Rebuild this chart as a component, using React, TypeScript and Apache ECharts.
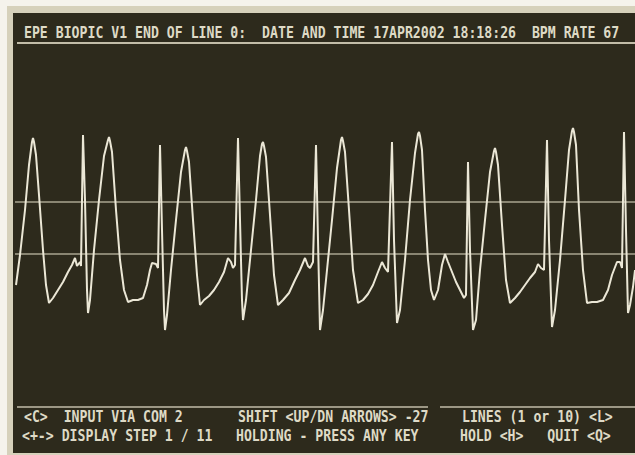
import React, { useEffect, useRef } from "react";
import * as echarts from "echarts";

// Trace: time (sample position) and signal level
const traceTime = [
  1, 5, 10, 14, 17, 18, 19, 21, 24, 28, 31, 34, 38, 43, 48, 53, 57, 60, 62, 65, 66,
  68, 70, 72, 73, 75, 79, 84, 89, 93, 94, 95, 97, 101, 105, 109, 113, 118, 123, 128, 132, 135, 137, 141, 143,
  145, 147, 149, 150, 152, 156, 161, 166, 170, 171, 172, 174, 178, 182, 185, 189, 194, 199, 204, 209, 213, 216, 218, 220,
  223, 225, 227, 228, 231, 236, 241, 245, 247, 248, 249, 251, 255, 259, 263, 268, 274, 280, 285, 290, 293, 295, 298,
  301, 303, 305, 308, 312, 317, 322, 326, 327, 328, 330, 334, 338, 343, 348, 353, 358, 363, 367, 370, 373,
  377, 379, 382, 385, 390, 395, 400, 403, 404, 405, 407, 410, 413, 416, 419, 423, 427, 430, 433, 437, 441, 445, 449, 451,
  453, 455, 458, 461, 465, 470, 475, 479, 480, 481, 483, 487, 491, 495, 500, 505, 510, 515, 520, 523, 526, 529,
  532, 534, 537, 540, 545, 550, 554, 557, 558, 559, 561, 564, 568, 572, 577, 582, 588, 593, 597, 602, 605, 607,
  609, 611, 613, 615, 618, 620,
];
const traceLevel = [
  55, 85, 130, 175, 198, 202, 198, 185, 145, 90, 55, 37, 42, 50, 58, 68, 75, 82, 74, 78, 74,
  205, 140, 50, 27, 40, 90, 140, 184, 200, 203, 199, 188, 130, 80, 50, 38, 40, 40, 42, 55, 70, 77, 76, 72,
  195, 110, 30, 10, 25, 70, 120, 168, 190, 193, 189, 178, 120, 65, 35, 40, 44, 50, 58, 68, 82, 78, 72, 75,
  202, 120, 40, 20, 40, 90, 140, 184, 196, 198, 194, 183, 125, 65, 35, 40, 47, 60, 70, 82, 74, 72, 78,
  195, 100, 10, 30, 70, 120, 172, 200, 203, 199, 188, 130, 70, 37, 40, 46, 55, 68, 78, 72, 68,
  198, 100, 17, 30, 80, 140, 187, 206, 208, 204, 190, 130, 80, 50, 40, 50, 75, 86, 78, 68, 58, 50, 42, 45,
  178, 90, 10, 20, 70, 120, 168, 189, 192, 188, 175, 115, 60, 37, 42, 48, 55, 62, 68, 76, 72, 70,
  200, 100, 13, 30, 80, 140, 190, 209, 212, 208, 195, 130, 70, 37, 38, 38, 40, 50, 65, 78, 78, 72,
  208, 110, 27, 35, 53, 70,
];
// Horizontal reference levels
const refLevels = [138, 86];

const header =
  "EPE BIOPIC V1 END OF LINE 0:  DATE AND TIME 17APR2002 18:18:26  BPM RATE 67";
const footerRow1 = ["<C>  INPUT VIA COM 2", "SHIFT <UP/DN ARROWS> -27", "LINES (1 or 10) <L>"];
const footerRow2 = ["<+-> DISPLAY STEP 1 / 11", "HOLDING - PRESS ANY KEY", "HOLD <H>   QUIT <Q>"];

export default function App() {
  const ref = useRef<HTMLDivElement>(null);
  useEffect(() => {
    if (!ref.current) return;
    const chart = echarts.init(ref.current, undefined, { renderer: "svg" });
    const textColor = "#dedac6";
    const font = {
      fontFamily: "DejaVu Sans Mono",
      fontSize: 15,
      fontWeight: "bold" as const,
      fill: textColor,
      verticalAlign: "middle" as const,
    };
    const colX = [24, 238, 462];
    const footerTexts: any[] = [];
    footerRow1.forEach((t, i) =>
      footerTexts.push({ type: "text", x: colX[i], y: 417, scaleX: 0.88, style: { ...font, text: t }, z: 10 })
    );
    footerRow2.forEach((t, i) =>
      footerTexts.push({ type: "text", x: colX[i] - 2, y: 436, scaleX: 0.88, style: { ...font, text: t }, z: 10 })
    );
    chart.setOption({
      animation: false,
      backgroundColor: "#f5f3ec",
      graphic: [
        { type: "rect", shape: { x: 7, y: 6, width: 640, height: 452 }, style: { fill: "#d6d1bb" }, z: -20, silent: true },
        { type: "rect", shape: { x: 13, y: 13, width: 630, height: 440 }, style: { fill: "#2d2a1c" }, z: -19, silent: true },
        { type: "text", x: 24, y: 33, scaleX: 0.88, style: { ...font, text: header }, z: 10 },
        { type: "line", shape: { x1: 17, y1: 43, x2: 635, y2: 43 }, style: { stroke: "#c2bda8", lineWidth: 2 }, z: 10 },
        { type: "line", shape: { x1: 17, y1: 407, x2: 428, y2: 407 }, style: { stroke: "#c2bda8", lineWidth: 1.5 }, z: 10 },
        { type: "line", shape: { x1: 440, y1: 407, x2: 635, y2: 407 }, style: { stroke: "#c2bda8", lineWidth: 1.5 }, z: 10 },
        ...footerTexts,
      ],
      grid: { left: 15, right: 0, top: 100, bottom: 115, containLabel: false },
      xAxis: {
        type: "value",
        min: 0,
        max: 620,
        show: false,
      },
      yAxis: {
        type: "value",
        min: 0,
        max: 240,
        show: false,
      },
      series: [
        {
          type: "line",
          data: traceTime.map((t, i) => [t, traceLevel[i]]),
          showSymbol: false,
          symbol: "none",
          lineStyle: { color: "#ebe7d6", width: 2 },
          clip: false,
          markLine: {
            silent: true,
            symbol: "none",
            label: { show: false },
            lineStyle: { color: "#a9a48f", width: 1.5, type: "solid" },
            data: refLevels.map((v) => ({ yAxis: v })),
          },
          z: 5,
        },
      ],
    });
    return () => chart.dispose();
  }, []);
  return (
    <div
      ref={ref}
      style={{ position: "absolute", left: 0, top: 0, width: 635, height: 455 }}
    />
  );
}
